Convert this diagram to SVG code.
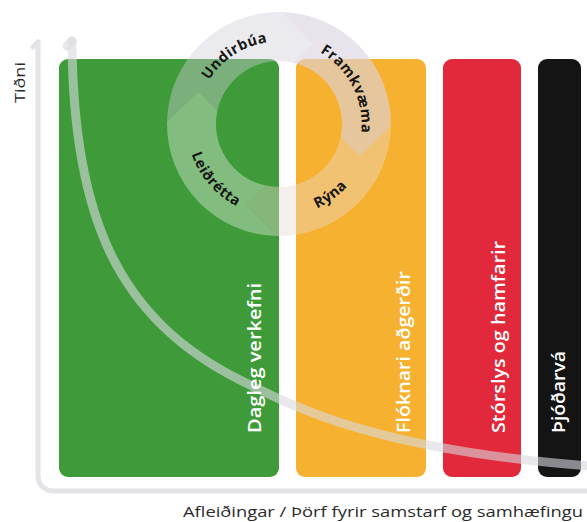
<svg xmlns="http://www.w3.org/2000/svg" width="587" height="522" viewBox="0 0 587 522">
<style>
.axis{fill:none;stroke:#e3e3e8;stroke-width:5;stroke-linecap:round;stroke-linejoin:round}
.curve{fill:none;stroke:#d8d8e0;stroke-opacity:0.6;stroke-width:9;stroke-linecap:round}
.boxlabel{font-family:"Open Sans","Liberation Sans",sans-serif;font-weight:600;font-size:18px;fill:#ffffff}
.ringlabel{font-family:"Open Sans","Liberation Sans",sans-serif;font-weight:700;font-size:14.5px;fill:#161616;letter-spacing:0.5px}
.axislabel{font-family:"Open Sans","Liberation Sans",sans-serif;font-size:15px;fill:#2a2a2a}
</style>
<defs>
<path id="arcU" d="M197.11,113.95 A82.5,82.5 0 0 1 303.12,45.11"/>
<path id="arcF" d="M297.56,43.61 A82.5,82.5 0 0 1 354.94,156.24"/>
<path id="arcR" d="M272.55,216.27 A92.5,92.5 0 0 0 368.75,146.38"/>
<path id="arcL" d="M187.64,109.53 A92.5,92.5 0 0 0 280.61,216.49"/>
</defs>
<rect width="587" height="522" fill="#ffffff"/>

<g id="axes">
<path class="axis" d="M38,42 V476 A15,15 0 0 0 53,491 H590"/>
<path class="axis" d="M33,47 L38,42"/>
</g>

<g id="box-dagleg">
<rect x="59" y="59" width="220" height="418" rx="9" fill="#3f9b3a"/>
</g>
<g id="box-floknari">
<rect x="296" y="59" width="130" height="418" rx="9" fill="#f6b130"/>
</g>
<g id="box-storslys">
<rect x="443" y="59" width="78" height="418" rx="9" fill="#e2293b"/>
</g>
<g id="box-thjodarva">
<rect x="538" y="59" width="43" height="418" rx="9" fill="#141414"/>
</g>

<g id="curve">
<path class="curve" d="M72,41 C73,220 120,320 240,380 C300,410 380,450 590,466"/>
<path class="curve" d="M67,46 L72,41"/>
</g>

<g id="cycle-undirbua">
<path d="M167.02,122.05 A112,112 0 0 1 280.95,12.02 L311.59,43.34 L292.10,62.38 A63,63 0 0 0 217.38,110.90 L198.34,91.41 Z" fill="#cfcdd9" fill-opacity="0.42"/>
<text class="ringlabel"><textPath href="#arcU" startOffset="50%" text-anchor="middle">Undirbúa</textPath></text>
</g>
<g id="cycle-framkvaema">
<path d="M280.95,12.02 A112,112 0 0 1 390.98,125.95 L359.66,156.59 L340.62,137.10 A63,63 0 0 0 292.10,62.38 L311.59,43.34 Z" fill="#dcd4de" fill-opacity="0.62"/>
<text class="ringlabel"><textPath href="#arcF" startOffset="50%" text-anchor="middle">Framkvæma</textPath></text>
</g>
<g id="cycle-ryna">
<path d="M390.98,125.95 A112,112 0 0 1 277.05,235.98 L246.41,204.66 L265.90,185.62 A63,63 0 0 0 340.62,137.10 L359.66,156.59 Z" fill="#e8d8d0" fill-opacity="0.42"/>
<text class="ringlabel"><textPath href="#arcR" startOffset="50%" text-anchor="middle">Rýna</textPath></text>
</g>
<g id="cycle-leidretta">
<path d="M277.05,235.98 A112,112 0 0 1 167.02,122.05 L198.34,91.41 L217.38,110.90 A63,63 0 0 0 265.90,185.62 L246.41,204.66 Z" fill="#f0f4ee" fill-opacity="0.38"/>
<text class="ringlabel"><textPath href="#arcL" startOffset="50%" text-anchor="middle">Leiðrétta</textPath></text>
</g>

<g id="labels">
<text class="boxlabel" transform="translate(261,433) rotate(-90)" textLength="150" lengthAdjust="spacingAndGlyphs">Dagleg verkefni</text>
<text class="boxlabel" transform="translate(410,433) rotate(-90)" textLength="162" lengthAdjust="spacingAndGlyphs">Flóknari aðgerðir</text>
<text class="boxlabel" transform="translate(505,433) rotate(-90)" textLength="192" lengthAdjust="spacingAndGlyphs">Stórslys og hamfarir</text>
<text class="boxlabel" transform="translate(565,433) rotate(-90)" textLength="82" lengthAdjust="spacingAndGlyphs">Þjóðarvá</text>
<text class="axislabel" transform="translate(25,103) rotate(-90)" textLength="41" lengthAdjust="spacingAndGlyphs">Tiðni</text>
<text class="axislabel" x="183" y="517" font-size="16" textLength="400" lengthAdjust="spacingAndGlyphs">Afleiðingar / Þörf fyrir samstarf og samhæfingu</text>
</g>
</svg>
